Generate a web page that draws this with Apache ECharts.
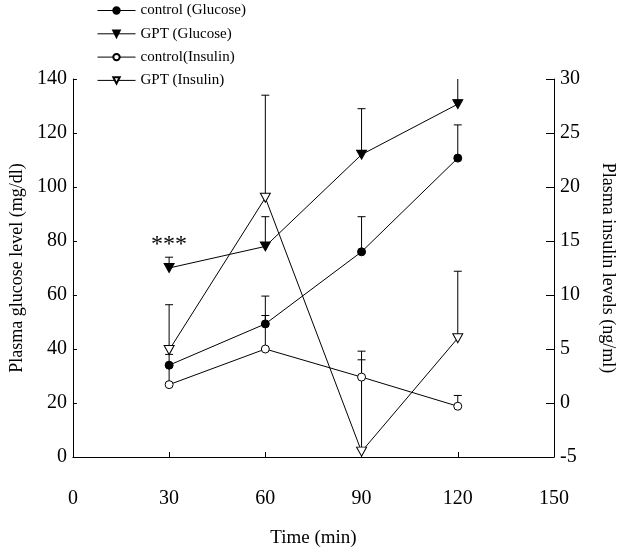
<!DOCTYPE html>
<html>
<head>
<meta charset="utf-8">
<script src="https://cdn.jsdelivr.net/npm/echarts@6/dist/echarts.min.js"></script>
<style>
html,body{margin:0;padding:0;background:#fff;}
#chart{width:626px;height:553px;}
</style>
</head>
<body>
<div id="chart"></div>
<script>
var times = [30, 60, 90, 120];
var xTicks = [0, 30, 60, 90, 120, 150];

var ctrlGlucose = [34, 49.3, 76, 110.7];
var ctrlGlucoseTop = [38, 59.6, 89, 123];
var gptGlucose = [70, 78, 112, 130.7];
var gptGlucoseTop = [74, 89, 129, 143];

var ctrlInsulin = [1.7, 5.0, 2.4, -0.3];
var ctrlInsulinTop = [3.4, 8.1, 4.0, 0.7];
var gptInsulin = [4.9, 19.0, -4.5, 6.0];
var gptInsulinTop = [9.1, 28.5, 4.8, 12.2];

var FONT = 'Liberation Serif';

function pairs(vals) {
	return times.map(function (t, i) { return [t, vals[i]]; });
}
function triples(vals, tops) {
	return times.map(function (t, i) { return [t, vals[i], tops[i]]; });
}

function errRender(params, api) {
	var p0 = api.coord([api.value(0), api.value(1)]);
	var p1 = api.coord([api.value(0), api.value(2)]);
	var st = { stroke: '#000', lineWidth: 1 };
	return {
		type: 'group',
		children: [
			{ type: 'line', shape: { x1: p0[0], y1: p0[1], x2: p1[0], y2: p1[1] }, style: st },
			{ type: 'line', shape: { x1: p1[0] - 4, y1: p1[1], x2: p1[0] + 4, y2: p1[1] }, style: st }
		]
	};
}

function errSeries(vals, tops, yIdx) {
	return {
		type: 'custom',
		yAxisIndex: yIdx,
		renderItem: errRender,
		data: triples(vals, tops),
		clip: true,
		silent: true,
		z: 1
	};
}

function lineSeries(name, vals, yIdx, symbol, filled, size) {
	return {
		name: name,
		type: 'line',
		yAxisIndex: yIdx,
		data: pairs(vals),
		symbol: symbol,
		symbolSize: size,
		symbolRotate: symbol === 'triangle' ? 180 : 0,
		showAllSymbol: true,
		lineStyle: { color: '#000', width: 1 },
		itemStyle: { color: filled ? '#000' : '#fff', borderColor: '#000', borderWidth: 1, opacity: 1 },
		z: 3
	};
}

var chart = echarts.init(document.getElementById('chart'));

var gptG = lineSeries('GPT (Glucose)', gptGlucose, 0, 'triangle', true, [10, 9]);
gptG.markPoint = {
	symbol: 'rect',
	symbolSize: 1,
	itemStyle: { color: 'transparent' },
	label: { show: true, position: 'inside', formatter: '***', color: '#000', fontFamily: FONT, fontSize: 24 },
	data: [{ coord: [30, 78.5] }]
};

var option = {
	backgroundColor: '#fff',
	animation: false,
	textStyle: { fontFamily: FONT, color: '#000' },
	legend: {
		orient: 'vertical',
		left: 92,
		top: -2,
		itemWidth: 38,
		itemHeight: 8,
		itemGap: 8.3,
		lineStyle: { width: 1 },
		textStyle: { fontFamily: FONT, fontSize: 15, color: '#000' },
		data: ['control (Glucose)', 'GPT (Glucose)', 'control(Insulin)', 'GPT (Insulin)']
	},
	grid: { left: 70, right: 72, top: 79, bottom: 96 },
	xAxis: {
		type: 'value',
		min: 0,
		max: 150,
		interval: 30,
		offset: 22,
		name: 'Time (min)',
		nameLocation: 'middle',
		nameGap: 50,
		nameTextStyle: { fontFamily: FONT, fontSize: 19, color: '#000' },
		axisLine: { show: true, lineStyle: { color: '#000', width: 1 } },
		axisTick: { show: true, inside: true, length: 5, lineStyle: { color: '#000' } },
		axisLabel: { fontFamily: FONT, fontSize: 20, color: '#000', margin: 10,
			formatter: function (v) { return xTicks.indexOf(v) >= 0 ? String(v) : ''; } },
		splitLine: { show: false }
	},
	yAxis: [
		{
			type: 'value',
			min: 0,
			max: 140,
			interval: 20,
			name: 'Plasma glucose level (mg/dl)',
			nameLocation: 'middle',
			nameGap: 46,
			nameTextStyle: { fontFamily: FONT, fontSize: 18, color: '#000' },
			axisLine: { show: true, lineStyle: { color: '#000', width: 1 } },
			axisTick: { show: true, inside: true, length: 4, lineStyle: { color: '#000' } },
			axisLabel: { fontFamily: FONT, fontSize: 20, color: '#000', margin: 6 },
			splitLine: { show: false }
		},
		{
			type: 'value',
			position: 'right',
			min: -5,
			max: 30,
			interval: 5,
			name: 'Plasma insulin levels (ng/ml)',
			nameLocation: 'middle',
			nameRotate: -90,
			nameGap: 45,
			nameTextStyle: { fontFamily: FONT, fontSize: 18, color: '#000' },
			axisLine: { show: true, lineStyle: { color: '#000', width: 1 } },
			axisTick: { show: true, inside: true, length: 8, lineStyle: { color: '#000' } },
			axisLabel: { fontFamily: FONT, fontSize: 20, color: '#000', margin: 6 },
			splitLine: { show: false }
		}
	],
	series: [
		errSeries(ctrlGlucose, ctrlGlucoseTop, 0),
		errSeries(gptGlucose, gptGlucoseTop, 0),
		errSeries(ctrlInsulin, ctrlInsulinTop, 1),
		errSeries(gptInsulin, gptInsulinTop, 1),
		lineSeries('control (Glucose)', ctrlGlucose, 0, 'circle', true, 8),
		gptG,
		lineSeries('control(Insulin)', ctrlInsulin, 1, 'circle', false, 8),
		lineSeries('GPT (Insulin)', gptInsulin, 1, 'triangle', false, [10, 9])
	]
};

chart.setOption(option);
</script>
</body>
</html>
